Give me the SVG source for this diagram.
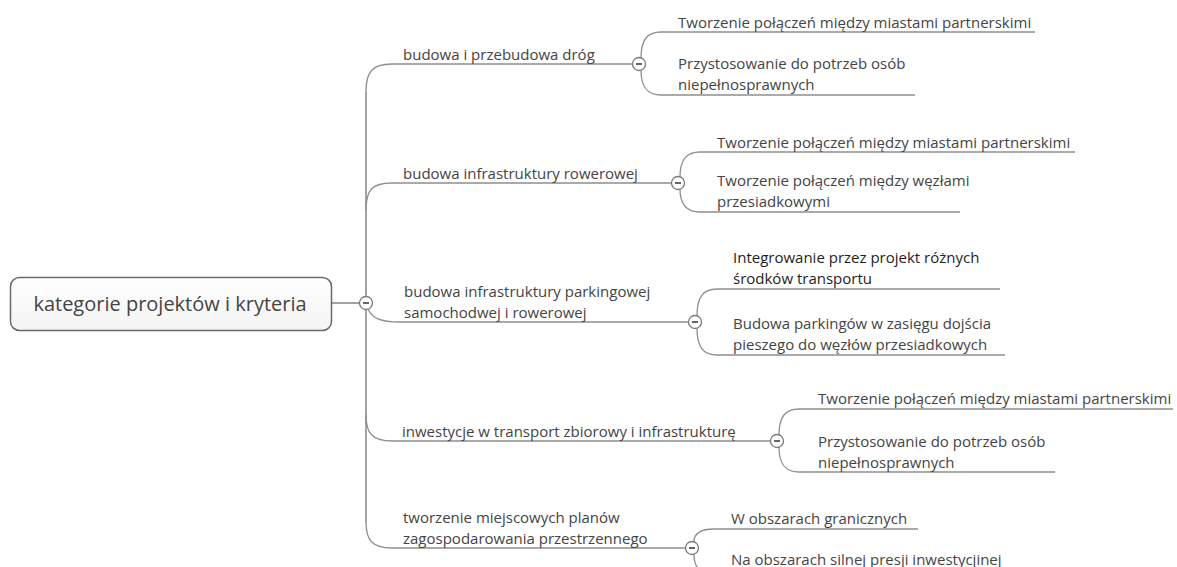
<svg xmlns="http://www.w3.org/2000/svg" width="1177" height="567" viewBox="0 0 1177 567">
<style>
  .t { font-family: "Open Sans", "Noto Sans", sans-serif; font-size: 15px; fill: #444; }
  .dark { fill: #1e1e1e; }
  .root { font-family: "Open Sans", "Noto Sans", sans-serif; font-size: 20px; fill: #444; }
  .ln { fill: none; stroke: #8e8e8e; stroke-width: 1.3; }
  .trunk { fill: none; stroke: #7c7c7c; stroke-width: 1.4; }
  .tog circle { fill: #fff; stroke: #7a7a7a; stroke-width: 1.3; }
  .tog line { stroke: #555; stroke-width: 1.8; }
</style>
<defs>
  <g id="toggle" class="tog"><circle cx="0" cy="0" r="6.5"/><line x1="-3" y1="0" x2="3" y2="0"/></g>
  <linearGradient id="rootfill" x1="0" y1="0" x2="0" y2="1">
    <stop offset="0" stop-color="#ffffff"/><stop offset="1" stop-color="#f4f4f4"/>
  </linearGradient>
</defs>
<rect width="1177" height="567" fill="#fff"/>

<g id="connectors">
  <path class="trunk" d="M332,303 L360,303"/>
  <path class="trunk" d="M366,92 L366,522"/>
  <path class="ln" d="M366,92 C366,72 372,64 392,64 L633,64"/>
  <path class="ln" d="M366,210 C366,190 372,183 392,183 L672,183"/>
  <path class="ln" d="M368,309 C372,318 380,322 400,322 L689,322"/>
  <path class="ln" d="M366,415 C366,433 372,441 392,441 L771,441"/>
  <path class="ln" d="M366,522 C366,540 372,548 392,548 L686,548"/>

  <path class="ln" d="M641,58 C641,40 647,32 661,32 L1035,32"/>
  <path class="ln" d="M641,70 C641,87 647,95 661,95 L915,95"/>

  <path class="ln" d="M680,177 C680,160 686,152 700,152 L1075,152"/>
  <path class="ln" d="M680,189 C680,204 686,212 700,212 L960,212"/>

  <path class="ln" d="M697,316 C697,297 703,289 717,289 L1000,289"/>
  <path class="ln" d="M697,328 C697,347 703,355 717,355 L1005,355"/>

  <path class="ln" d="M779,435 C779,417 785,409 799,409 L1173,409"/>
  <path class="ln" d="M779,447 C779,464 785,472 799,472 L1055,472"/>

  <path class="ln" d="M694,542 C694,535 698,529 714,529 L918,529"/>
  <path class="ln" d="M694,554 C694,565 697,572 712,574"/>
</g>

<g id="root">
  <rect x="10.5" y="277.5" width="321" height="53" rx="9" fill="url(#rootfill)" stroke="#6a6a6a" stroke-width="1.5"/>
  <text class="root" x="170" y="311" text-anchor="middle">kategorie projektów i kryteria</text>
  <use href="#toggle" x="366" y="303"/>
</g>

<g id="b1">
  <text class="t" x="403" y="60">budowa i przebudowa dróg</text>
  <use href="#toggle" x="639" y="64"/>
</g>
<g id="b1a"><text class="t" x="678" y="28">Tworzenie połączeń między miastami partnerskimi</text></g>
<g id="b1b"><text class="t" x="678" y="69">Przystosowanie do potrzeb osób</text><text class="t" x="678" y="90">niepełnosprawnych</text></g>

<g id="b2">
  <text class="t" x="403" y="179">budowa infrastruktury rowerowej</text>
  <use href="#toggle" x="678" y="183"/>
</g>
<g id="b2a"><text class="t" x="717" y="148">Tworzenie połączeń między miastami partnerskimi</text></g>
<g id="b2b"><text class="t" x="717" y="186">Tworzenie połączeń między węzłami</text><text class="t" x="717" y="207">przesiadkowymi</text></g>

<g id="b3">
  <text class="t" x="404" y="297">budowa infrastruktury parkingowej</text>
  <text class="t" x="404" y="318">samochodwej i rowerowej</text>
  <use href="#toggle" x="695" y="322"/>
</g>
<g id="b3a"><text class="t dark" x="733" y="263">Integrowanie przez projekt różnych</text><text class="t dark" x="733" y="284">środków transportu</text></g>
<g id="b3b"><text class="t" x="733" y="329">Budowa parkingów w zasięgu dojścia</text><text class="t" x="733" y="350">pieszego do węzłów przesiadkowych</text></g>

<g id="b4">
  <text class="t" x="402" y="437">inwestycje w transport zbiorowy i infrastrukturę</text>
  <use href="#toggle" x="777" y="441"/>
</g>
<g id="b4a"><text class="t" x="818" y="404">Tworzenie połączeń między miastami partnerskimi</text></g>
<g id="b4b"><text class="t" x="818" y="447">Przystosowanie do potrzeb osób</text><text class="t" x="818" y="468">niepełnosprawnych</text></g>

<g id="b5">
  <text class="t" x="403" y="523">tworzenie miejscowych planów</text>
  <text class="t" x="403" y="544">zagospodarowania przestrzennego</text>
  <use href="#toggle" x="692" y="548"/>
</g>
<g id="b5a"><text class="t" x="731" y="524">W obszarach granicznych</text></g>
<g id="b5b"><text class="t" x="731" y="565">Na obszarach silnej presji inwestycjinej</text></g>
</svg>
